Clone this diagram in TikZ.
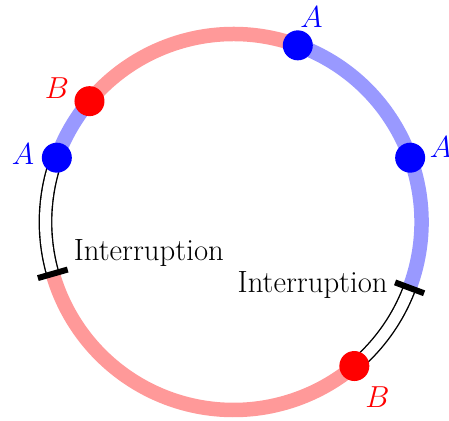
\documentclass[tikz,border=0pt]{standalone}
\usepackage{amsmath,amssymb}
\usepackage{tikz}
\usetikzlibrary{calc, positioning}
\newcommand{\rad}{3.76}

\begin{document}
\begin{tikzpicture}[every node/.style={font=\fontsize{16}{19}\selectfont},
    ringa/.style={line width=0.29cm, blue!40},
    ringb/.style={line width=0.29cm, red!40},
    gap/.style={double, double distance=0.22cm, line width=0.8pt},
    stopbar/.style={line width=0.12cm},
    dota/.style={circle, fill=blue, minimum size=0.6cm, inner sep=0pt},
    dotb/.style={circle, fill=red, minimum size=0.6cm, inner sep=0pt},
    gaptext/.style={inner sep=0pt, font=\fontsize{17.5}{20}\selectfont}]
  \useasboundingbox (-4.67,-3.96) rectangle (4.31,4.44);

  \draw[ringa] (-20:\rad) arc (-20:70:\rad);
  \draw[ringb] (70:\rad) arc (70:140:\rad);
  \draw[ringa] (140:\rad) arc (140:160:\rad);
  \draw[ringb] (196:\rad) arc (196:310:\rad);

  \draw[gap] (160:\rad) arc (160:196:\rad);
  \draw[gap] (310:\rad) arc (310:339.5:\rad);
  \draw[stopbar] (196:{\rad-0.31}) -- (196:{\rad+0.31});
  \draw[stopbar] (339.5:{\rad-0.31}) -- (339.5:{\rad+0.31});

  \node[dota] (A1) at (70:\rad) {};
  \node[dota] (A2) at (20:\rad) {};
  \node[dota] (A3) at (160:\rad) {};
  \node[dotb] (B1) at (140:\rad) {};
  \node[dotb] (B2) at (310:\rad) {};

  \node[blue] (LA1) at (1.56,4.10) {$A$};
  \node[blue] (LA2) at (4.15,1.50) {$A$};
  \node[blue] (LA3) at (-4.21,1.36) {$A$};
  \node[red] (LB1) at (-3.53,2.67) {$B$};
  \node[red] (LB2) at (2.88,-3.50) {$B$};

  \node[gaptext, anchor=west] (I1) at (-3.20,-0.61) {Interruption};
  \node[gaptext, anchor=east] (I2) at (3.09,-1.26) {Interruption};
\end{tikzpicture}
\end{document}
